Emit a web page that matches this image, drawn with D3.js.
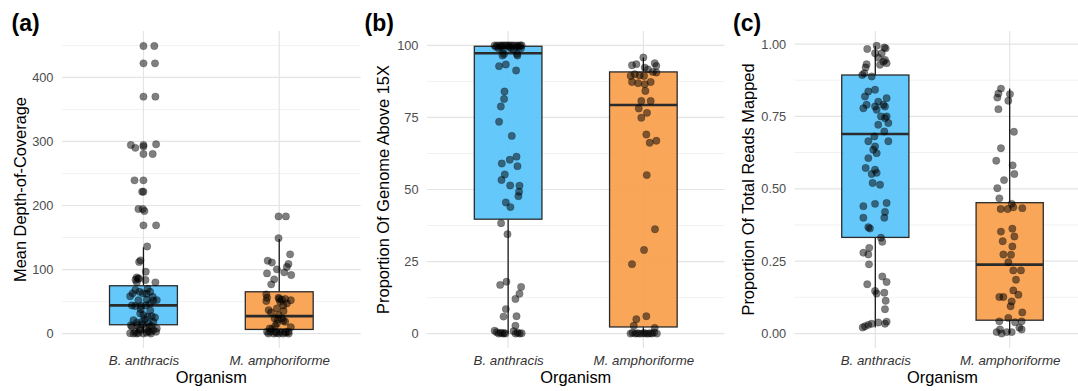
<!DOCTYPE html>
<html>
<head>
<meta charset="utf-8">
<script src="https://cdn.jsdelivr.net/npm/d3@7"></script>
<style>
  html, body { margin: 0; padding: 0; background: #fff; }
  svg { display: block; font-family: "Liberation Sans", Arial, Helvetica, sans-serif; }
</style>
</head>
<body>
<svg id="chart" width="1078" height="391"></svg>
<script>
// ---------- data ----------
const organisms = ["B. anthracis", "M. amphoriforme"];
const panelLetters = ["(a)", "(b)", "(c)"];
const yTitles = ["Mean Depth-of-Coverage", "Proportion Of Genome Above 15X", "Proportion Of Total Reads Mapped"];
const xTitle = "Organism";

const ticksDepth = [0, 100, 200, 300, 400];
const ticksGenome = [0, 25, 50, 75, 100];
const ticksReads = [0, 0.25, 0.5, 0.75, 1.0];

// box stats: [whiskerLow, lowerHinge, median, upperHinge, whiskerHigh] for B. anthracis, M. amphoriforme
const boxDepth = [[0, 13.8, 44, 74.7, 134.7], [0, 6.5, 27.3, 65.3, 147.6]];
const boxGenome = [[0, 39.7, 97.3, 99.7, 100], [0, 2.3, 79.3, 90.8, 95.8]];
const boxReads = [[0.021, 0.332, 0.689, 0.893, 0.994], [0, 0.046, 0.238, 0.452, 0.846]];

// Mean depth-of-coverage
const depthB = [449,449,422,422,370,370,294.5,290,294.5,292,295.6,280.5,280.5,239.3,239.3,221.6,221.6,194.5,194.5,191.4,169,169,136,111.7,114.4,96.6,84,85.6,83.6,80,80,87.8,86,
  58.3,62.8,65.3,62.8,62.3,65.3,57.5,53,52,43.8,43,43,44,47,51.5,52.3,31.5,29,26.3,27.3,25.2,21,17,18.5,16,18,10.7,2.9,5.5,0,1.5,2.9,5.5,2.9,0,8,0.5,1,8,10.7,13,14.5,13,
  70,68,36,38,22,12,7,4,0,0];
const depthBJitter = [0,0.8,0,0.85,0,0.88,-0.93,-0.6,0,0,0.93,0,0.68,-0.66,0,0,-0.1,-0.37,-0.05,0.07,0,0.93,0.27,-0.32,-0.22,0.17,-0.59,-0.41,0.15,0.88,-0.49,-0.5,-0.34,
  -0.98,-0.8,-0.29,-0.05,0.22,0.49,0.68,0.24,-0.37,-0.85,-0.61,-0.17,0.17,0.49,0.73,0.98,-0.24,0,0.29,0.61,0.85,-0.73,-0.49,-0.12,0.37,0.73,-0.85,-0.61,-0.24,0,0.24,0.49,0.73,0.93,-0.73,0.98,-0.98,-0.37,0.12,0.44,-0.44,-0.05,-0.93,
  0.3,-0.6,0.5,-0.2,0.1,0.6,-0.3,0.35,-0.5,0.55];
const depthM = [183,183,149,123.7,113.8,111,108.6,104,100.3,95.6,91.4,94,84.7,76.9,61.2,56,50.8,56,53.9,49.7,47.1,36.7,39.3,35.2,28.9,23.7,23.7,18.5,15.9,
  2.9,2.9,2.9,2.9,2.9,2.9,7,54,53,52,44,33,22,20,12,10,8,0,0,0,0,0,1,1.5];
const depthMJitter = [-0.05,0.49,-0.05,0.8,-0.85,-0.54,0.68,0.56,-0.17,0.37,0.88,-0.9,-0.37,-0.59,-0.95,-0.9,-0.95,-0.05,0.44,0.07,0.56,-0.78,-0.17,0.32,-0.05,-0.34,0.2,0.44,-0.17,
  -0.9,-0.66,-0.29,0.07,0.44,0.68,-0.54,0,0.2,0.85,0.3,-0.6,-0.1,0.3,-0.3,0.85,-0.7,-0.8,-0.4,0,0.3,0.7,-0.2,0.5];

// Proportion of genome above 15X
const genomeB = [100,100,100,100,100,100,100,100,100,100,100,100,100,99.5,99.5,99.5,99.5,99.5,99,99,99,98.5,98.5,97,97,
  96.5,96.5,92.8,93.4,91.3,84,81.4,78.8,73.5,68.6,59,60.3,61.4,58.1,55.2,53.3,51.4,51.3,49.2,47.7,45.5,43.9,38.3,34.5,
  16.9,18,16.2,13.8,12,8.5,5.9,6,2.7,1,0.5,0,0.3,0,0.2,0,0.8,0,0.3,0,0.1];
const genomeBJitter = [-1,-0.8,-0.6,-0.45,-0.3,-0.15,0,0.15,0.3,0.5,0.7,0.9,1.0,-0.9,-0.5,0.1,0.6,0.8,-0.7,0.2,0.95,-0.4,0.4,-0.3,0.65,
  -0.42,0.69,-0.67,-0.17,0.59,-0.27,-0.3,-0.54,-0.67,0.27,-0.47,0.12,0.62,0.69,-0.25,-0.49,0.15,0.84,0.81,0.76,-0.17,0.17,-0.52,-0.05,
  -0.59,-0.12,0.96,0.84,0.54,-0.17,-0.34,0.62,0.54,-1,-0.85,-0.7,-0.55,-0.4,-0.3,-0.2,0.4,0.55,0.7,0.85,1.0];
const genomeM = [95.8,93.8,92.9,93.1,93.5,92.3,91.7,90.8,90.6,89.4,90,89.6,89.4,87.3,86.9,86.5,87.3,84.2,80.7,80.7,78.1,76.6,74.9,69.1,66.9,66.2,55,36.2,29,24.1,6,5,2.7,2,
  0,0.3,0,0.1,0,0,0.2,0,0,0.1,0,0.4,0];
const genomeMJitter = [0,0.84,0.96,-0.84,-0.52,0.1,0.34,0.71,0.96,-0.94,-0.64,-0.27,0.05,-0.84,-0.39,0.1,0.54,0.15,-0.15,0.54,-0.34,0.27,-0.15,0.22,0.96,0.47,0.25,0.86,0.05,-0.84,0.22,-0.52,-0.71,0.84,
  -0.95,-0.8,-0.6,-0.45,-0.3,-0.1,0.05,0.2,0.35,0.5,0.65,0.8,1.0];

// Proportion of total reads mapped
const readsB = [0.983,0.994,0.988,0.985,0.968,0.968,0.953,0.939,0.945,0.934,0.928,0.930,0.919,0.899,0.893,0.888,0.790,0.778,0.784,0.773,0.750,0.813,0.836,0.819,0.842,0.801,0.790,0.784,0.750,0.744,0.727,0.721,0.698,0.664,0.681,0.664,0.646,0.635,0.623,0.606,0.572,0.566,0.555,0.551,0.520,0.514,
  0.440,0.448,0.451,0.420,0.400,0.400,0.367,0.363,0.331,0.317,0.296,0.279,0.273,0.239,0.170,0.197,0.178,0.147,0.138,0.141,0.113,0.084,0.021,0.030,0.034,0.038,0.034,0.041,0.025];
const readsBJitter = [-0.6,0.1,0.67,0.77,0.47,-0.02,0.22,0.6,0.72,0.84,0.35,-0.65,-0.72,-0.82,-0.97,-0.27,-0.65,-0.89,-0.02,0.1,0.42,0.84,-0.52,-0.77,-0.02,0.22,0.6,0.72,0.84,0.72,0.97,0.22,0.67,0.97,-0.07,-0.52,-0.02,-0.15,0.1,-0.52,-0.72,-0.02,0.1,-0.27,-0.2,0.35,
  -0.89,-0.02,0.84,0.72,0.67,-0.89,-0.52,-0.4,0.42,0.52,-0.45,-0.89,-0.52,-0.47,-0.6,0.52,0.84,-0.02,0.1,0.67,0.77,0.72,-0.94,-0.52,-0.27,0.22,0.72,0.84,-0.77];
const readsM = [0.846,0.829,0.815,0.827,0.804,0.775,0.697,0.640,0.597,0.581,0.551,0.530,0.502,0.467,0.448,0.430,0.430,0.436,0.433,0.352,0.362,0.335,0.319,0.301,0.273,0.272,0.246,0.218,0.218,0.186,0.149,0.126,0.126,0.134,0.111,0.094,0.073,0.054,0.042,0.039,0.042,0.020,0.014,0.005,0.005,0.000,0.005,0.014];
const readsMJitter = [-0.65,-0.84,-0.92,0.02,-0.1,-0.84,0.32,-0.65,-1.0,0.22,0.35,-0.42,-0.92,-0.77,0.15,-0.67,-0.15,0.27,0.94,-0.65,0.2,0.35,-0.52,0.2,-0.47,0.1,-0.1,0.27,0.84,0.47,0.27,-0.77,-0.47,0.65,0.15,0.07,0.94,-0.1,-0.77,0.4,0.89,0.72,-0.72,-0.97,-0.22,-0.6,0.15,0.89];

// ---------- layout ----------
const fills = ["#58C4FB", "#F99F4C"];
const fontSans = '"Liberation Sans", Arial, Helvetica, sans-serif';
const panels = [
  { letter: panelLetters[0], title: yTitles[0], left: 62, right: 360.7, titleX: 25.5, letterX: 11.5,
    yDomain: [-22.5, 472.5], ticks: ticksDepth, fmt: d3.format("d"), boxes: boxDepth,
    series: [[depthB, depthBJitter], [depthM, depthMJitter]] },
  { letter: panelLetters[1], title: yTitles[1], left: 427, right: 724.5, titleX: 388.5, letterX: 364.5,
    yDomain: [-5, 105], ticks: ticksGenome, fmt: d3.format("d"), boxes: boxGenome,
    series: [[genomeB, genomeBJitter], [genomeM, genomeMJitter]] },
  { letter: panelLetters[2], title: yTitles[2], left: 794.7, right: 1090.3, titleX: 754, letterX: 733,
    yDomain: [-0.05, 1.045], ticks: ticksReads, fmt: d3.format(".2f"), boxes: boxReads,
    series: [[readsB, readsBJitter], [readsM, readsMJitter]] }
];
const plotTop = 31, plotBottom = 348;
const svg = d3.select("#chart");

panels.forEach(p => {
  const x = d3.scaleLinear().domain([0.4, 2.6]).range([p.left, p.right]);
  const y = d3.scaleLinear().domain(p.yDomain).range([plotBottom, plotTop]);
  const unit = x(2) - x(1);
  const g = svg.append("g");

  // minor gridlines
  const step = p.ticks[1] - p.ticks[0];
  const minor = [];
  for (let i = 0; i < p.ticks.length; i++) {
    const v = p.ticks[i] + step / 2;
    if (v <= p.yDomain[1]) minor.push(v);
  }
  g.append("g").selectAll("line").data(minor).join("line")
    .attr("x1", p.left).attr("x2", p.right)
    .attr("y1", d => y(d)).attr("y2", d => y(d))
    .attr("stroke", "#ebebeb").attr("stroke-width", 0.7);
  g.append("g").selectAll("line").data(p.ticks).join("line")
    .attr("x1", p.left).attr("x2", p.right)
    .attr("y1", d => y(d)).attr("y2", d => y(d))
    .attr("stroke", "#e4e4e4").attr("stroke-width", 1.2);
  g.append("g").selectAll("line").data([1, 2]).join("line")
    .attr("x1", d => x(d)).attr("x2", d => x(d))
    .attr("y1", plotTop).attr("y2", plotBottom)
    .attr("stroke", "#e4e4e4").attr("stroke-width", 1.2);

  // boxes
  const hw = 0.25 * unit;
  p.boxes.forEach((b, i) => {
    const cx = x(i + 1);
    g.append("line").attr("x1", cx).attr("x2", cx).attr("y1", y(b[3])).attr("y2", y(b[4]))
      .attr("stroke", "#1a1a1a").attr("stroke-width", 1.3);
    g.append("line").attr("x1", cx).attr("x2", cx).attr("y1", y(b[0])).attr("y2", y(b[1]))
      .attr("stroke", "#1a1a1a").attr("stroke-width", 1.3);
    g.append("rect").attr("x", cx - hw).attr("width", 2 * hw)
      .attr("y", y(b[3])).attr("height", y(b[1]) - y(b[3]))
      .attr("fill", fills[i]).attr("fill-opacity", 0.93)
      .attr("stroke", "#2b2b2b").attr("stroke-width", 1.3);
    g.append("line").attr("x1", cx - hw).attr("x2", cx + hw).attr("y1", y(b[2])).attr("y2", y(b[2]))
      .attr("stroke", "#2b2b2b").attr("stroke-width", 2.6);
  });

  // points
  p.series.forEach((s, i) => {
    const vals = s[0], jit = s[1];
    g.append("g").selectAll("circle").data(vals).join("circle")
      .attr("cx", (d, k) => x(i + 1) + jit[k] * 0.1 * unit)
      .attr("cy", d => y(d))
      .attr("r", 3.7)
      .attr("fill", "#000").attr("fill-opacity", 0.5)
      .attr("stroke", "#000").attr("stroke-opacity", 0.3).attr("stroke-width", 0.6);
  });

  // y axis
  const ya = g.append("g").attr("transform", `translate(${p.left},0)`)
    .call(d3.axisLeft(y).tickValues(p.ticks).tickFormat(p.fmt).tickSize(0).tickPadding(8.5));
  ya.select(".domain").remove();
  ya.selectAll("text").attr("fill", "#4d4d4d").style("font-size", "12.8px").style("font-family", fontSans);

  // x axis
  const xa = g.append("g").attr("transform", `translate(0,${plotBottom})`)
    .call(d3.axisBottom(x).tickValues([1, 2]).tickFormat(d => organisms[d - 1]).tickSize(0).tickPadding(7.8));
  xa.select(".domain").remove();
  xa.selectAll("text").attr("fill", "#333").style("font-size", "13.3px").style("font-style", "italic").style("font-family", fontSans);

  // titles
  g.append("text").attr("x", x(1.5)).attr("y", 382.5).attr("text-anchor", "middle")
    .style("font-size", "16.4px").attr("fill", "#000").text(xTitle);
  g.append("text").attr("transform", `translate(${p.titleX},${(plotTop + plotBottom) / 2}) rotate(-90)`)
    .attr("text-anchor", "middle").style("font-size", "16.4px").attr("fill", "#000").text(p.title);
  g.append("text").attr("x", p.letterX).attr("y", 30.5)
    .style("font-size", "23px").style("font-weight", "bold").attr("fill", "#000").text(p.letter);
});
</script>
</body>
</html>
